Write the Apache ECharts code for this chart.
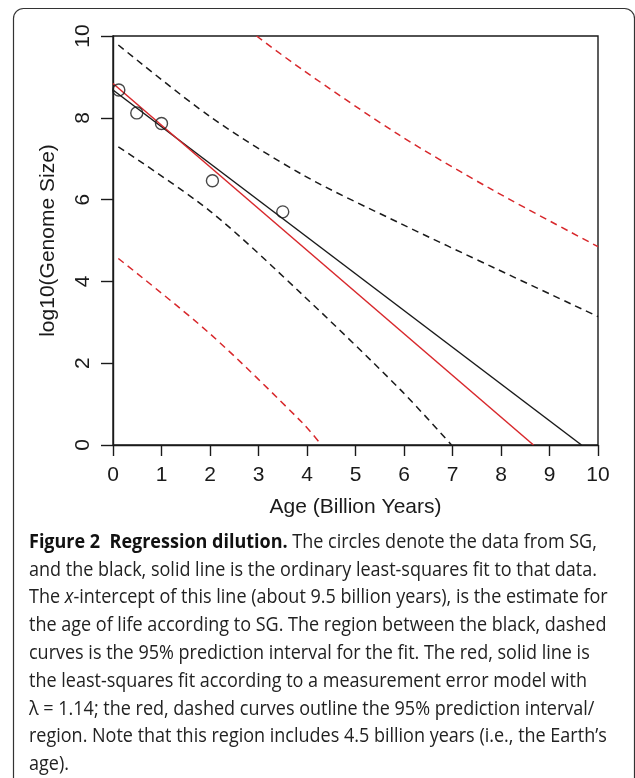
<!DOCTYPE html>
<html>
<head>
<meta charset="utf-8">
<title>Regression dilution</title>
<style>
  * { margin: 0; padding: 0; }
  body { background: #fff; }
  #chart { width: 635px; height: 778px; }
</style>
<script src="https://cdn.jsdelivr.net/npm/echarts@6/dist/echarts.min.js"></script>
</head>
<body>
<div id="chart"></div>
<script>
// data
var sgAge = [0.12, 0.49, 1.0, 2.05, 3.5];
var sgLogSize = [8.68, 8.12, 7.86, 6.46, 5.70];

// black solid: ordinary least squares
var olsX = [0, 9.66];
var olsY = [8.68, 0];
// red solid: measurement error model
var meX = [0, 8.67];
var meY = [8.84, 0];

// black dashed: 95% prediction interval (OLS)
var olsUpX = [0.11, 2.0, 3.92, 5.92, 7.88, 10];
var olsUpY = [9.78, 8.03, 6.60, 5.42, 4.32, 3.14];
var olsLoX = [0.11, 2.0, 3.92, 5.92, 6.98];
var olsLoY = [7.29, 5.72, 3.66, 1.36, 0];

// red dashed: 95% prediction interval (measurement error model)
var meUpX = [2.96, 3.9, 5.9, 7.85, 10];
var meUpY = [10, 9.18, 7.58, 6.22, 4.85];
var meLoX = [0.11, 2.0, 3.9, 4.30];
var meLoY = [4.56, 2.72, 0.55, 0];

var xTicks = [0, 1, 2, 3, 4, 5, 6, 7, 8, 9, 10];
var yTicks = [0, 2, 4, 6, 8, 10];

function pairs(xs, ys) {
  var out = [];
  for (var i = 0; i < xs.length; i++) out.push([xs[i], ys[i]]);
  return out;
}

var captionLines = [
  '{b|Figure 2  Regression dilution.} The circles denote the data from SG,',
  'and the black, solid line is the ordinary least-squares fit to that data.',
  'The {i|x}-intercept of this line (about 9.5 billion years), is the estimate for',
  'the age of life according to SG. The region between the black, dashed',
  'curves is the 95% prediction interval for the fit. The red, solid line is',
  'the least-squares fit according to a measurement error model with',
  '\u03bb = 1.14; the red, dashed curves outline the 95% prediction interval/',
  'region. Note that this region includes 4.5 billion years (i.e., the Earth\u2019s',
  'age).'
];

var RED = '#d8282c';
var INK = '#1a1a1a';
var axisFont = 'Liberation Sans';

var graphics = [{
  type: 'rect',
  shape: { x: 13.5, y: 8.5, width: 621, height: 800, r: 10 },
  style: { fill: 'none', stroke: '#333', lineWidth: 1.2 },
  silent: true
}];
captionLines.forEach(function (line, i) {
  graphics.push({
    type: 'text',
    x: 29,
    y: 542 + i * 27.8,
    scaleX: 0.9,
    style: {
      text: line,
      font: '20px "Open Sans"',
      fill: '#222',
      verticalAlign: 'middle',
      rich: {
        b: { fontWeight: 'bold', fontSize: 20, fontFamily: 'Open Sans', fill: '#111' },
        i: { fontStyle: 'italic', fontSize: 20, fontFamily: 'Open Sans', fill: '#222' }
      }
    },
    silent: true
  });
});

var chart = echarts.init(document.getElementById('chart'));
chart.setOption({
  backgroundColor: '#fff',
  animation: false,
  grid: {
    left: 113, right: 37, top: 36, bottom: 333,
    show: true, borderColor: INK, borderWidth: 1.4, backgroundColor: 'transparent'
  },
  xAxis: {
    type: 'value', min: 0, max: 10, interval: 1,
    name: 'Age (Billion Years)', nameLocation: 'middle', nameGap: 52,
    nameTextStyle: { fontSize: 21, color: INK, fontFamily: axisFont },
    axisLine: { onZero: false, lineStyle: { color: INK, width: 1.4 } },
    axisTick: { length: 11, lineStyle: { color: INK, width: 1.4 } },
    axisLabel: {
      margin: 20, fontSize: 21, color: INK, fontFamily: axisFont,
      formatter: function (v) { return xTicks.indexOf(v) >= 0 ? String(v) : ''; }
    },
    splitLine: { show: false }
  },
  yAxis: {
    type: 'value', min: 0, max: 10, interval: 2,
    name: 'log10(Genome Size)', nameLocation: 'middle', nameGap: 54, nameRotate: 90,
    nameTextStyle: { fontSize: 21, color: INK, fontFamily: axisFont },
    axisLine: { show: true, onZero: false, lineStyle: { color: INK, width: 1.4 } },
    axisTick: { show: true, length: 12, lineStyle: { color: INK, width: 1.4 } },
    axisLabel: {
      margin: 19, rotate: 90, fontSize: 21, color: INK, fontFamily: axisFont,
      formatter: function (v) { return yTicks.indexOf(v) >= 0 ? String(v) : ''; }
    },
    splitLine: { show: false }
  },
  series: [
    {
      name: 'OLS PI upper', type: 'line', data: pairs(olsUpX, olsUpY), smooth: 0.3,
      showSymbol: false, clip: true,
      lineStyle: { color: INK, width: 1.5, type: [7, 5] }
    },
    {
      name: 'OLS PI lower', type: 'line', data: pairs(olsLoX, olsLoY), smooth: 0.3,
      showSymbol: false, clip: true,
      lineStyle: { color: INK, width: 1.5, type: [7, 5] }
    },
    {
      name: 'ME PI upper', type: 'line', data: pairs(meUpX, meUpY), smooth: 0.3,
      showSymbol: false, clip: true,
      lineStyle: { color: RED, width: 1.5, type: [7, 5] }
    },
    {
      name: 'ME PI lower', type: 'line', data: pairs(meLoX, meLoY), smooth: 0.3,
      showSymbol: false, clip: true,
      lineStyle: { color: RED, width: 1.5, type: [7, 5] }
    },
    {
      name: 'OLS fit', type: 'line', data: pairs(olsX, olsY),
      showSymbol: false, lineStyle: { color: INK, width: 1.5 }
    },
    {
      name: 'ME fit', type: 'line', data: pairs(meX, meY),
      showSymbol: false, lineStyle: { color: RED, width: 1.5 }
    },
    {
      name: 'SG data', type: 'scatter', data: pairs(sgAge, sgLogSize),
      symbol: 'circle', symbolSize: 12, z: 5,
      itemStyle: { color: 'rgba(0,0,0,0)', borderColor: INK, borderWidth: 1.4 }
    }
  ],
  graphic: graphics
});
</script>
</body>
</html>
